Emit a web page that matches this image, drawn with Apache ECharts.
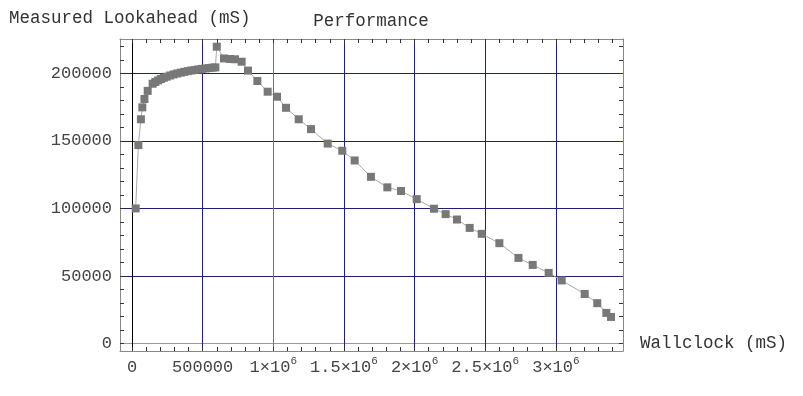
<!DOCTYPE html>
<html>
<head>
<meta charset="utf-8">
<title>Performance</title>
<script src="https://cdn.jsdelivr.net/npm/echarts@6/dist/echarts.min.js"></script>
<style>
  html, body { margin: 0; padding: 0; background: #fff; }
  #chart { width: 803px; height: 396px; }
</style>
</head>
<body>
<div id="chart"></div>
<script>
// values (mS)
const wallclock = [26000, 45000, 63000, 73000, 88000, 111000, 146000, 165000, 185000, 205000,
  225000, 245000, 270000, 295000, 320000, 345000, 370000, 395000, 420000, 445000,
  470000, 495000, 520000, 545000, 570000, 590000, 600000, 651000, 693000, 729000,
  776000, 821000, 887000, 960000, 1026000, 1090000, 1180000, 1267000, 1385000, 1488000,
  1576000, 1691000, 1807000, 1904000, 2015000, 2137000, 2220000, 2300000, 2390000, 2475000,
  2600000, 2735000, 2836000, 2949000, 3041000, 3204000, 3293000, 3357000, 3390000];
const lookahead = [100000, 146900, 166000, 174800, 181000, 187000, 192300, 193600, 194800, 195800,
  196700, 197500, 198400, 199200, 199900, 200500, 201100, 201600, 202100, 202500,
  202900, 203300, 203600, 203900, 204200, 204400, 219700, 211000, 210600, 210400,
  208600, 202000, 194300, 186400, 182700, 174500, 166000, 158700, 148000, 142700,
  135500, 123400, 115600, 112900, 106900, 99800, 95800, 91800, 85600, 81200,
  74300, 63400, 58200, 52300, 46700, 36700, 29900, 22700, 19700];

const xLabelValues = [0, 500000, 1000000, 1500000, 2000000, 2500000, 3000000];
const xLabelTexts = ['{a|0}', '{a|500000}', '{a|1×10}{s|6}', '{a|1.5×10}{s|6}',
  '{a|2×10}{s|6}', '{a|2.5×10}{s|6}', '{a|3×10}{s|6}'];
const yLabelValues = [0, 50000, 100000, 150000, 200000];
const yLabelTexts = ['0', '50000', '100000', '150000', '200000'];
// grid lines (first entry is the axis through the origin)
const xGridValues = [0, 500000, 1000000, 1500000, 2000000, 2500000, 3000000];
const yGridValues = [0, 50000, 100000, 150000, 200000];

const X_MIN = -85000, X_MAX = 3475000;
const Y_MIN = -5500, Y_MAX = 225400;

// frame ticks: every 100000 on x, every 10000 on y
const xTicks = [];
for (let v = 0; v <= 3400000; v += 100000) xTicks.push(v);
const yTicks = [];
for (let v = 0; v <= 220000; v += 10000) yTicks.push(v);

const FONT = 'Liberation Mono';
const NAVY = '#1f1f78';

const chart = echarts.init(document.getElementById('chart'));

const frameLine = { show: true, onZero: false, lineStyle: { color: '#888', width: 1 } };
const tickStyle = { show: true, inside: true, length: 4, lineStyle: { color: '#333', width: 1 } };

function xAxis(pos, withLabels) {
  return {
    type: 'value', position: pos, min: X_MIN, max: X_MAX,
    axisLine: frameLine,
    axisTick: { ...tickStyle, customValues: xTicks },
    splitLine: { show: false },
    axisLabel: withLabels ? {
      show: true, margin: 5, customValues: xLabelValues,
      formatter: v => xLabelTexts[xLabelValues.indexOf(v)] || '',
      rich: {
        a: { fontFamily: FONT, fontSize: 17, color: '#444', lineHeight: 20, verticalAlign: 'bottom' },
        s: { fontFamily: FONT, fontSize: 11, color: '#444', lineHeight: 20, verticalAlign: 'top' }
      }
    } : { show: false }
  };
}

function yAxis(pos, withLabels) {
  return {
    type: 'value', position: pos, min: Y_MIN, max: Y_MAX,
    axisLine: frameLine,
    axisTick: { ...tickStyle, customValues: yTicks },
    splitLine: { show: false },
    axisLabel: withLabels ? {
      show: true, margin: 8, customValues: yLabelValues,
      formatter: v => yLabelTexts[yLabelValues.indexOf(v)] || '',
      fontFamily: FONT, fontSize: 17, color: '#444'
    } : { show: false }
  };
}

// hidden axes that only carry the grid lines
const xGridAxis = {
  type: 'value', position: 'bottom', min: X_MIN, max: X_MAX,
  axisLine: { show: false, onZero: false },
  axisTick: { show: false, customValues: xGridValues },
  axisLabel: { show: false },
  splitLine: { show: true, lineStyle: { width: 1, color: ['#000', NAVY, '#6e6ea6', NAVY, NAVY, NAVY, NAVY] } }
};
const yGridAxis = {
  type: 'value', position: 'left', min: Y_MIN, max: Y_MAX,
  axisLine: { show: false, onZero: false },
  axisTick: { show: false, customValues: yGridValues },
  axisLabel: { show: false },
  splitLine: { show: true, lineStyle: { width: 1, color: ['#999', NAVY, NAVY, NAVY, NAVY] } }
};

const option = {
  animation: false,
  backgroundColor: '#fff',
  grid: { left: 120, top: 39, right: 180, bottom: 45 },
  xAxis: [xAxis('bottom', true), xAxis('top', false), xGridAxis],
  yAxis: [yAxis('left', true), yAxis('right', false), yGridAxis],
  graphic: [
    { type: 'text', x: 9, y: 18, silent: true,
      style: { text: 'Measured Lookahead (mS)', font: '17.5px "' + FONT + '"', fill: '#333', verticalAlign: 'middle' } },
    { type: 'text', x: 371, y: 21, silent: true,
      style: { text: 'Performance', font: '17.5px "' + FONT + '"', fill: '#333', align: 'center', verticalAlign: 'middle' } },
    { type: 'text', x: 640, y: 343, silent: true,
      style: { text: 'Wallclock (mS)', font: '17.5px "' + FONT + '"', fill: '#333', align: 'left', verticalAlign: 'middle' } }
  ],
  series: [
    {
      name: 'Performance',
      type: 'line', z: 3,
      data: wallclock.map((x, i) => [x, lookahead[i]]),
      symbol: 'rect', symbolSize: 8, showAllSymbol: true,
      itemStyle: { color: '#787878' },
      lineStyle: { color: '#aaa', width: 1 }
    }
  ]
};

chart.setOption(option);
</script>
</body>
</html>
